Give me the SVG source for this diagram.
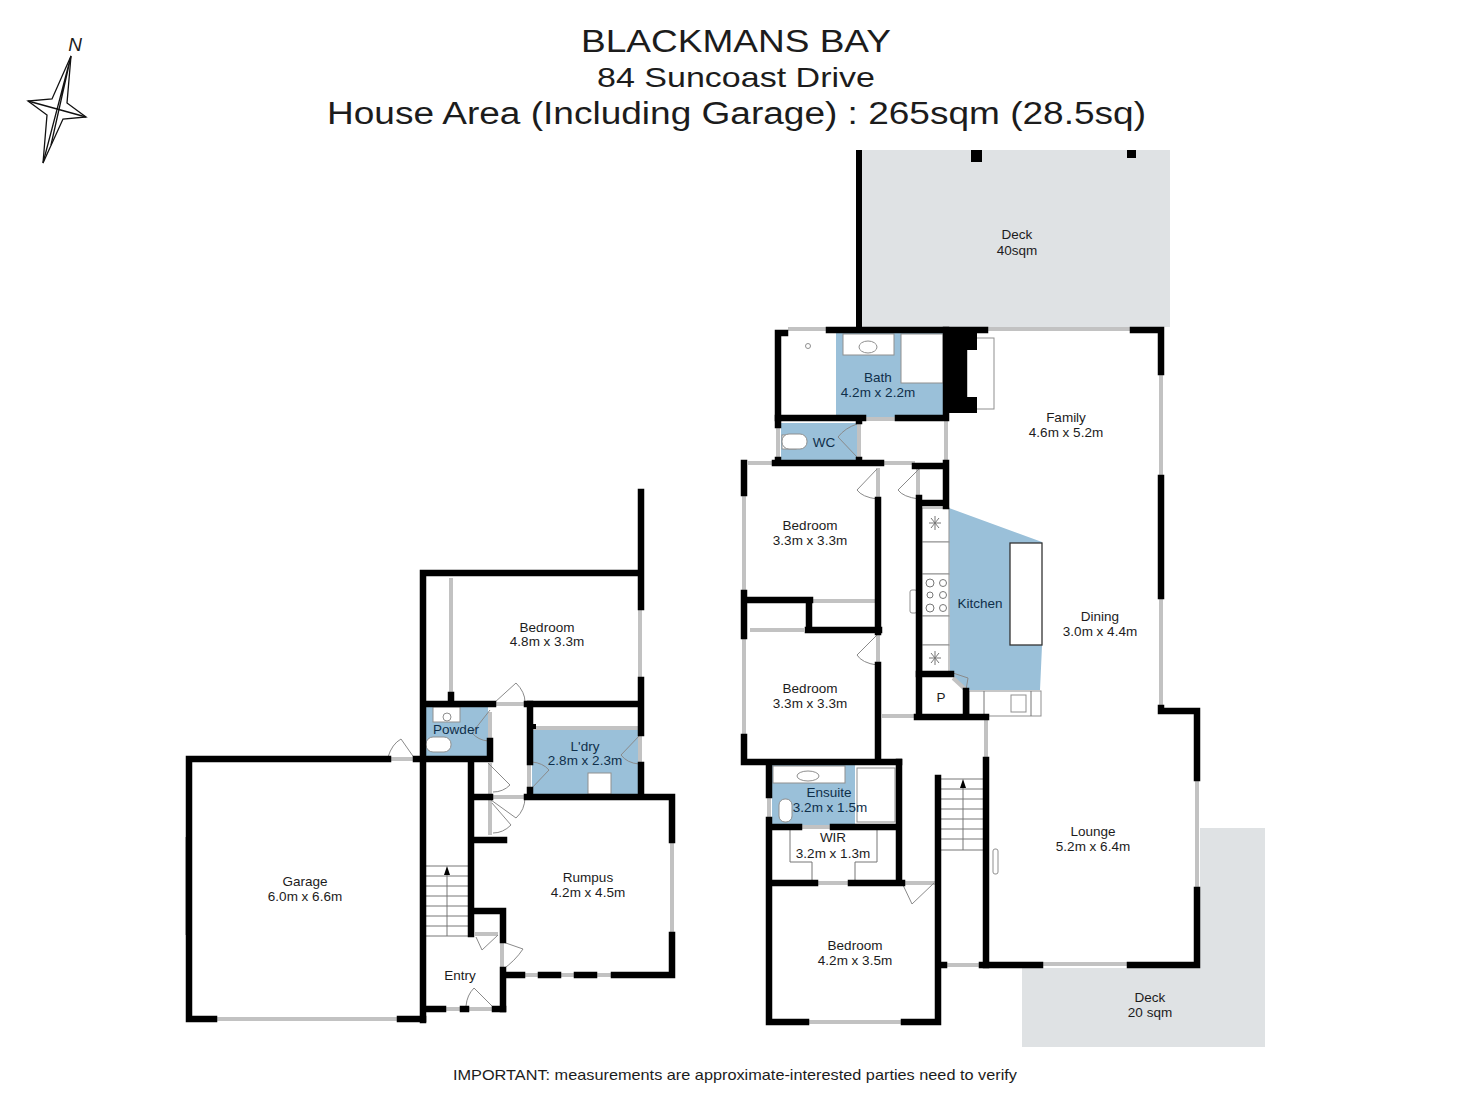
<svg xmlns="http://www.w3.org/2000/svg" width="1472" height="1104" viewBox="0 0 1472 1104">
<style>
text{font-family:"Liberation Sans",Arial,sans-serif;fill:#1c1c1c;text-anchor:middle}
.l{font-size:13.5px}
.b{fill:#0f2f4a}
.t{font-size:31px}
.wall{fill:none;stroke:#000;stroke-width:6.500;stroke-linecap:square}
.win{fill:none;stroke:#c2c2c2;stroke-width:4}
.door{fill:none;stroke:#8a8a8a;stroke-width:1}
.fx{fill:#fff;stroke:#8f8f8f;stroke-width:1}
.thin{fill:none;stroke:#777;stroke-width:1}
.blue{fill:#9ac0d9}
.deck{fill:#dfe2e4}
.dk{fill:#000}
</style>
<rect width="1472" height="1104" fill="#fff"/>

<g id="title">
<text x="736" y="52" class="t" textLength="310" lengthAdjust="spacingAndGlyphs">BLACKMANS BAY</text>
<text x="736" y="87" style="font-size:28px" textLength="278" lengthAdjust="spacingAndGlyphs">84 Suncoast Drive</text>
<text x="736.500" y="124" class="t" textLength="819" lengthAdjust="spacingAndGlyphs">House Area (Including Garage) : 265sqm (28.5sq)</text>
<text x="735" y="1080" style="font-size:15px" textLength="564" lengthAdjust="spacingAndGlyphs">IMPORTANT: measurements are approximate-interested parties need to verify</text>
</g>

<g id="compass" fill="none" stroke="#111" stroke-width="1.300">
<path d="M71 56L52 99L28 101L47 115L43 163L63 119L86 117L67 103Z"/>
<path d="M71 56L43 163M71 56L51 145M28 101L86 117"/>
<text x="75" y="51" style="font-size:19px;font-style:italic;stroke:none">N</text>
</g>

<g id="decks">
<rect class="deck" x="862" y="150" width="308" height="177"/>
<path class="deck" d="M1200 828H1265V1047H1022V968H1200Z"/>
<path class="dk" d="M856 150h6v177h-6zM971 150h11v12h-11zM1127 150h9v8h-9z"/>
</g>

<g id="fills">
<rect class="blue" x="836" y="333" width="107" height="84"/>
<rect class="blue" x="781" y="423" width="76" height="38"/>
<path class="blue" d="M949 508L1042 542V646L1040 690H968L966 694L950 672Z"/>
<rect class="blue" x="772" y="765" width="83" height="62"/>
<rect class="blue" x="426" y="707" width="62" height="50"/>
<rect class="blue" x="532" y="730" width="106" height="65"/>
</g>

<g id="fixtures">
<rect class="fx" x="843" y="334" width="51" height="21"/>
<ellipse class="fx" cx="868" cy="347" rx="9" ry="6"/>
<rect class="fx" x="901" y="334" width="42" height="49"/>
<circle class="fx" cx="808" cy="346" r="2.500"/>
<rect class="fx" x="782" y="435" width="14" height="14"/>
<rect class="fx" x="782" y="434" width="25" height="15" rx="7"/>
<rect class="fx" x="922" y="508" width="27" height="34"/>
<rect class="fx" x="922" y="542" width="27" height="32"/>
<rect class="fx" x="922" y="574" width="27" height="42"/>
<rect class="fx" x="922" y="616" width="27" height="29"/>
<rect class="fx" x="922" y="645" width="27" height="27"/>
<rect class="fx" x="910" y="590" width="7" height="23" rx="2"/>
<g class="thin">
<circle cx="930" cy="583" r="4"/><circle cx="943" cy="583" r="3.500"/>
<circle cx="930" cy="595" r="3"/><circle cx="943" cy="595" r="3.500"/>
<circle cx="930" cy="608" r="4"/><circle cx="943" cy="608" r="3.500"/>
<path d="M935 516L935 530M929 523H941M931 518L939 528M939 518L931 528M935 651V665M929 658H941M931 653L939 663M939 653L931 663"/>
</g>
<rect x="1010" y="543" width="32" height="102" fill="#fff" stroke="#333" stroke-width="1.300"/>
<rect class="fx" x="969" y="691" width="72" height="25"/>
<path class="thin" d="M984 691V716M1031 691V716"/>
<rect class="fx" x="1011" y="695" width="15" height="17"/>
<rect class="fx" x="967" y="338" width="27" height="71"/>
<path class="dk" d="M949 333h28v17h-10v47h10v16h-28z"/>
<rect class="fx" x="773" y="766" width="72" height="17"/>
<ellipse class="fx" cx="808" cy="776" rx="11" ry="5"/>
<rect class="fx" x="857" y="768" width="38" height="54"/>
<rect class="fx" x="779" y="799" width="13" height="23" rx="6"/>
<rect class="fx" x="433" y="707" width="27" height="15"/>
<circle class="fx" cx="447" cy="717" r="4"/>
<rect class="fx" x="426" y="737" width="25" height="15" rx="7"/>
<rect class="fx" x="588" y="773" width="23" height="21"/>
<path class="thin" d="M790 830V862H812V880M855 880V862H877V830"/>
<rect class="fx" x="993" y="849" width="5" height="25" rx="2"/>
<path class="thin" d="M941 779H983M941 789H983M941 799H983M941 809H983M941 819H983M941 829H983M941 839H983M941 850H983M963 785V850"/>
<path class="dk" d="M963 779l-3 9h6z"/>
<path class="thin" d="M426 866H469M426 876H469M426 886H469M426 896H469M426 906H469M426 916H469M426 926H469M426 936H469M447 872V936"/>
<path class="dk" d="M447 866l-3 9h6z"/>
</g>

<g id="windows" class="win">
<path d="M788 329H826M985 329H1130M1161 372V478M1161 596V708M1197 778V890M1040 964H1130M986 719V760"/>
<path d="M778 428V457M863 419H898M946 419V460M748 463H773M882 463H915M744 493V590M744 638V737M813 601H875M750 630H804M882 716H915"/>
<path d="M769 795V820M799 827H833M815 883H851M806 1022H904M944 965H982M953 678L966 690"/>
<path d="M878 468V498M918 468V498M878 634V665M859 424V457M903 883H935"/>
<path d="M214 1019H400M187 837V935M388 759H416M451 578V693M640 607V680M493 704H527M490 712V741"/>
<path d="M530 728H638M529 762V790M640 735V763M490 763V795M490 800V835M493 797H525"/>
<path d="M672 840V935M522 975H541M558 975H577M594 975H614M475 934H498M502 940V970M443 1009H463M466 1009H495"/>
</g>

<g id="doors" class="door">
<path d="M877 469L857 490Q862 497 877 499"/>
<path d="M919 469L898 490Q903 497 919 499"/>
<path d="M877 635L857 655Q862 663 877 665"/>
<path d="M857 457L838 437Q845 428 857 424"/>
<path d="M934 883L912 904L903 885"/>
<path d="M415 759L401 739Q392 744 388 757"/>
<path d="M490 710L472 733Q478 740 488 741"/>
<path d="M494 703L516 683Q525 692 525 702"/>
<path d="M530 790L549 770Q543 763 532 762"/>
<path d="M640 735L621 755Q627 763 639 764"/>
<path d="M488 763L510 785Q503 792 493 792"/>
<path d="M525 797Q525 810 516 818L491 800"/>
<path d="M492 803L511 825Q503 833 493 833"/>
<path d="M498 935L482 950L476 937"/>
<path d="M500 941L523 949Q515 961 502 970"/>
<path d="M493 1007L474 988Q467 995 466 1006"/>
<path d="M953 673L968 678L966 690"/>
</g>

<g id="walls" class="wall">
<path d="M778 418V333H785M829 330H985M1133 330H1161V372M1161 478V596M1161 708V711H1197V778M1197 890V965H1130M1040 965H986V760"/>
<path d="M946 330V417M781 418H863M898 418H946M778 418V425M778 460V463M775 463H881M915 466H946M946 463V506M919 498V714M919 503H946M859 418V421M859 460V463"/>
<path d="M744 463V493M744 593V636M744 737V762H899M744 600H810M809 600V630M808 630H879M878 500V632M878 665V762"/>
<path d="M919 674H951M966 691V716M917 717H986"/>
<path d="M769 765V795M769 820V1022H806M904 1022H938V778M899 762V883M772 827H799M833 827H899M772 883H815M851 883H902M938 965H944M982 965H986"/>
</g>

<g id="walls-lower" class="wall">
<path d="M423 1020V573H640M641 492V607M641 680V733M641 765V795M423 704H493M527 704H640M451 695V701"/>
<path d="M490 741V759H416M388 759H189V1019H214M400 1019H423"/>
<path d="M530 704V762M530 790V797M471 760V934M474 797H490M527 797H672V840M672 935V975H614M577 975H594M541 975H558M522 975H503M503 970V1009M503 911V940M471 911H503"/>
<path d="M474 840H504M426 1009H443M463 1009H466M495 1009H503"/>
</g>
<rect x="532" y="724" width="4" height="5" class="dk"/>

<g id="labels">
<g id="room-deck-top"><text class="l" x="1017" y="239">Deck</text><text class="l" x="1017" y="255">40sqm</text></g>
<g id="room-bath"><text class="l b" x="878" y="382">Bath</text><text class="l b" x="878" y="397">4.2m x 2.2m</text></g>
<g id="room-family"><text class="l" x="1066" y="422">Family</text><text class="l" x="1066" y="437">4.6m x 5.2m</text></g>
<g id="room-wc"><text class="l b" x="824" y="447">WC</text></g>
<g id="room-bed1"><text class="l" x="810" y="530">Bedroom</text><text class="l" x="810" y="545">3.3m x 3.3m</text></g>
<g id="room-kitchen"><text class="l b" x="980" y="608">Kitchen</text></g>
<g id="room-dining"><text class="l" x="1100" y="621">Dining</text><text class="l" x="1100" y="636">3.0m x 4.4m</text></g>
<g id="room-bed2"><text class="l" x="810" y="693">Bedroom</text><text class="l" x="810" y="708">3.3m x 3.3m</text></g>
<g id="room-pantry"><text class="l" x="941" y="702">P</text></g>
<g id="room-ensuite"><text class="l b" x="829" y="797">Ensuite</text><text class="l b" x="830" y="812">3.2m x 1.5m</text></g>
<g id="room-wir"><text class="l" x="833" y="842">WIR</text><text class="l" x="833" y="858">3.2m x 1.3m</text></g>
<g id="room-lounge"><text class="l" x="1093" y="836">Lounge</text><text class="l" x="1093" y="851">5.2m x 6.4m</text></g>
<g id="room-bed3"><text class="l" x="855" y="950">Bedroom</text><text class="l" x="855" y="965">4.2m x 3.5m</text></g>
<g id="room-deck-low"><text class="l" x="1150" y="1002">Deck</text><text class="l" x="1150" y="1017">20 sqm</text></g>
<g id="room-bed4"><text class="l" x="547" y="632">Bedroom</text><text class="l" x="547" y="646">4.8m x 3.3m</text></g>
<g id="room-powder"><text class="l b" x="456" y="734">Powder</text></g>
<g id="room-ldry"><text class="l b" x="585" y="751">L'dry</text><text class="l b" x="585" y="765">2.8m x 2.3m</text></g>
<g id="room-garage"><text class="l" x="305" y="886">Garage</text><text class="l" x="305" y="901">6.0m x 6.6m</text></g>
<g id="room-rumpus"><text class="l" x="588" y="882">Rumpus</text><text class="l" x="588" y="897">4.2m x 4.5m</text></g>
<g id="room-entry"><text class="l" x="460" y="980">Entry</text></g>
</g>
</svg>
